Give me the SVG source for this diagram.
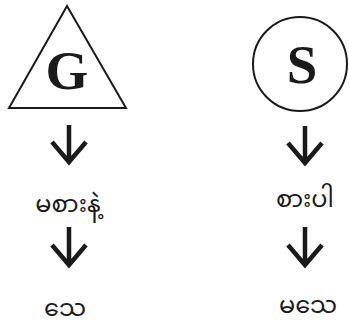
<svg xmlns="http://www.w3.org/2000/svg" width="349" height="323" viewBox="0 0 349 323">
<defs>
<style>
.shape{fill:none;stroke:#1a1a1a;stroke-width:2}
.big{font-family:"Liberation Serif","Times New Roman",serif;font-weight:bold;font-size:55px;fill:#1a1a1a;text-anchor:middle}
.my{font-family:"Noto Sans Myanmar","Padauk","Myanmar Text","Noto Sans",sans-serif;font-size:24px;fill:#1a1a1a;text-anchor:middle}
.arr{fill:none;stroke:#1a1a1a;stroke-width:4.5;stroke-linejoin:miter}
</style>
</defs>
<rect width="349" height="323" fill="#ffffff"/>
<g id="node-G">
<polygon class="shape" points="67,6 9,108 126,108"/>
<text class="big" x="67" y="89">G</text>
</g>
<g id="node-S">
<circle class="shape" cx="300" cy="64" r="47"/>
<text class="big" x="302" y="83">S</text>
</g>
<g id="node-left1"><text class="my" x="68" y="212">မစားနဲ့</text></g>
<g id="node-left2"><text class="my" x="65" y="316">သေ</text></g>
<g id="node-right1"><text class="my" x="305" y="207">စားပါ</text></g>
<g id="node-right2"><text class="my" x="308" y="313">မသေ</text></g>
<g id="connectors">
<path class="arr" d="M69,125 V162 M52,142 L69,162 L86,142"/>
<path class="arr" d="M69,227 V265 M52,245 L69,265 L86,245"/>
<path class="arr" d="M305,126 V163 M288,143 L305,163 L322,143"/>
<path class="arr" d="M305,227 V265 M288,245 L305,265 L322,245"/>
</g>
</svg>
